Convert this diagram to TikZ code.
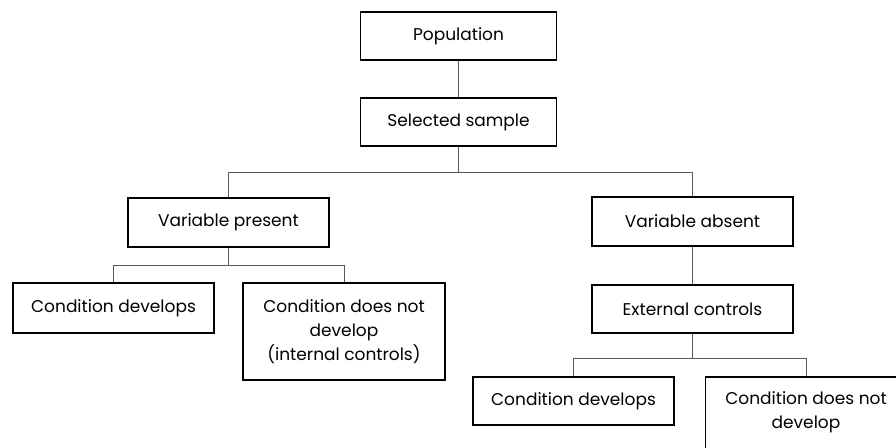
\documentclass[tikz,border=0pt]{standalone}
\usepackage{fontspec}
\setmainfont{Poppins}
\begin{document}
\begin{tikzpicture}[x=1pt,y=-1pt,
  box/.style={draw=black,line width=1.2pt,fill=white,align=center,inner sep=2pt,font=\fontsize{17}{24}\selectfont},
  conn/.style={draw=black!65,line width=1pt}]
\useasboundingbox (0,0) rectangle (896,447);
\begin{scope}
\clip (0,0) rectangle (896,447);
\node[box,minimum width=196pt,minimum height=48pt] (pop) at (458.5,36) {Population};
\node[box,minimum width=196pt,minimum height=48pt] (sel) at (458.5,122) {Selected sample};
\node[box,minimum width=201pt,minimum height=49pt] (vp) at (228.5,222.5) {Variable present};
\node[box,minimum width=201pt,minimum height=49pt] (va) at (692.5,221.5) {Variable absent};
\node[box,minimum width=201pt,minimum height=48pt] (ext) at (692.5,309) {External controls};
\node[box,minimum width=201pt,minimum height=50pt] (cd1) at (113.5,308) {Condition develops};
\node[box,minimum width=202pt,minimum height=97pt] (cn1) at (344,331.5) {Condition does not\\develop\\(internal controls)};
\node[box,minimum width=201pt,minimum height=48pt] (cd2) at (573.5,401) {Condition develops};
\node[box,minimum width=201pt,minimum height=97pt] (cn2) at (806,425.5) {Condition does not\\develop\\\strut};
\coordinate (j1) at (458.5,172);
\coordinate (j2) at (228.5,265);
\coordinate (j3) at (692.5,358);
\draw[conn] (pop.south) -- (sel.north);
\draw[conn] (sel.south) -- (j1);
\draw[conn] (j1) -| (vp.north);
\draw[conn] (j1) -| (va.north);
\draw[conn] (va.south) -- (ext.north);
\draw[conn] (vp.south) -- (j2);
\draw[conn] (j2) -| (cd1.north);
\draw[conn] (j2) -| (cn1.north);
\draw[conn] (ext.south) -- (j3);
\draw[conn] (j3) -| (cd2.north);
\draw[conn] (j3) -| (cn2.north);
\end{scope}
\end{tikzpicture}
\end{document}
